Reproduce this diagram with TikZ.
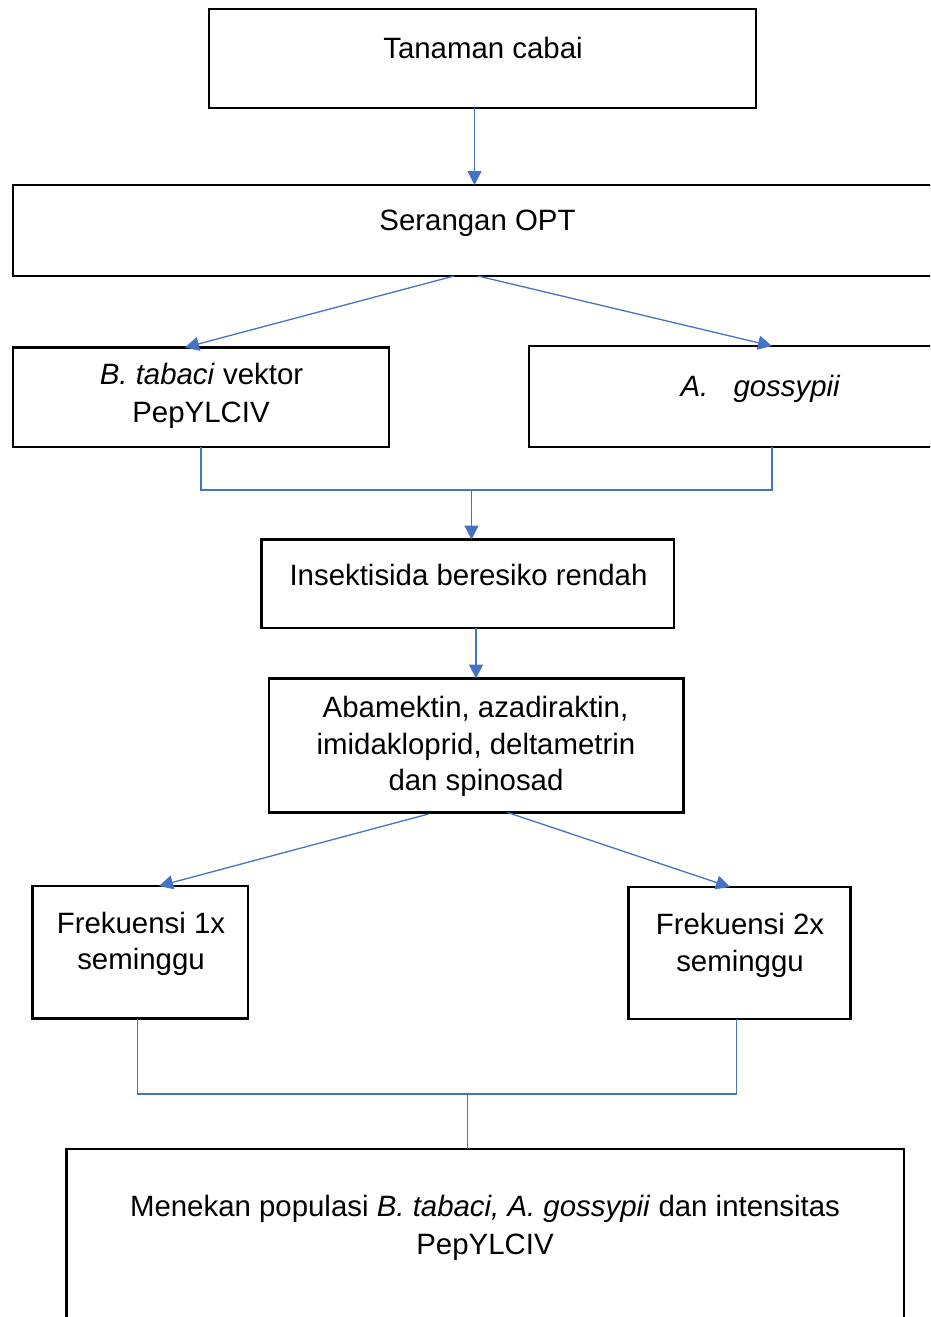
\documentclass[tikz,border=0pt]{standalone}
\usepackage{fontspec}
\setmainfont{Liberation Sans}
\usetikzlibrary{arrows.meta,calc}
\definecolor{lnblue}{RGB}{68,114,196}
\begin{document}
\begin{tikzpicture}[x=1pt,y=-1pt,
  box/.style={draw=black,line width=2.5pt,rectangle,inner sep=0pt,outer sep=0pt},
  lbl/.style={anchor=base,inner sep=0pt,font=\fontsize{29.4}{37.5}\selectfont},
  conn/.style={draw=lnblue,line width=1.3pt},
  arr/.style={conn,-{Triangle[length=14pt,width=14pt]}}]
\useasboundingbox (0,0) rectangle (930,1317);
\clip (0,0) rectangle (930,1317);
% boxes
\node[box,minimum width=547pt,minimum height=99pt] (b1) at (482.5,58.5) {};
\node[box,minimum width=947pt,minimum height=91pt] (b2) at (486.5,230.5) {};
\node[box,minimum width=376pt,minimum height=99.5pt] (b3) at (201,397.25) {};
\node[box,minimum width=431pt,minimum height=101pt] (b4) at (744.5,396.5) {};
\node[box,minimum width=412.5pt,minimum height=88.5pt] (b5) at (467.75,583.75) {};
\node[box,minimum width=414.5pt,minimum height=134pt] (b6) at (476.25,745.5) {};
\node[box,minimum width=215.5pt,minimum height=132.5pt] (b7) at (140.25,952.25) {};
\node[box,minimum width=222pt,minimum height=132pt] (b8) at (739.5,953) {};
\node[box,minimum width=837.5pt,minimum height=211pt] (b9) at (485.25,1254.5) {};
% texts
\node[lbl] (t1) at (483,58) {Tanaman cabai};
\node[lbl] (t2) at (477.5,230) {Serangan OPT};
\node[lbl] (t3a) at (201.5,384) {\textit{B. tabaci} vektor};
\node[lbl] (t3b) at (201,422) {PepYLCIV};
\node[lbl] (t4) at (760.5,396) {\textit{A.\hspace{17pt} gossypii}};
\node[lbl] (t5) at (468.5,585) {Insektisida beresiko rendah};
\node[lbl] (t6a) at (475.5,717) {Abamektin, azadiraktin,};
\node[lbl] (t6b) at (476,754) {imidakloprid, deltametrin};
\node[lbl] (t6c) at (476,790) {dan spinosad};
\node[lbl] (t7a) at (141,933) {Frekuensi 1x};
\node[lbl] (t7b) at (141,969.5) {seminggu};
\node[lbl] (t8a) at (740,934) {Frekuensi 2x};
\node[lbl] (t8b) at (740,971) {seminggu};
\node[lbl] (t9a) at (485,1216) {Menekan populasi \textit{B. tabaci, A. gossypii} dan intensitas};
\node[lbl] (t9b) at (485,1254) {PepYLCIV};
% connectors
\draw[arr] ($(b1.south west)+(265.5,0)$) -- ($(b2.north west)+(461.5,0)$);
\draw[arr] ($(b2.south west)+(441,0)$) -- ($(b3.north west)+(172,0)$);
\draw[arr] ($(b2.south west)+(465,0)$) -- ($(b4.north west)+(243,0)$);
\draw[conn] (b3.south) -- ++(0,43) -| ($(b4.south west)+(243,0)$);
\coordinate (j1) at ($(b3.south)+(270.5,43)$);
\draw[arr] (j1) -- (j1 |- b5.north);
\draw[arr] ($(b5.south west)+(214.5,0)$) -- ($(b6.north west)+(207,0)$);
\draw[arr] ($(b6.south west)+(159.5,1.5)$) -- ($(b7.north west)+(126.5,0)$);
\draw[arr] ($(b6.south west)+(238.5,0)$) -- ($(b8.north west)+(101.5,0)$);
\draw[conn] ($(b7.south west)+(105,0)$) -- ++(0,75.5) -| ($(b8.south west)+(108,0)$);
\coordinate (j2) at ($(b7.south west)+(435,75.5)$);
\draw[conn] (j2) -- (j2 |- b9.north);
\end{tikzpicture}
\end{document}
